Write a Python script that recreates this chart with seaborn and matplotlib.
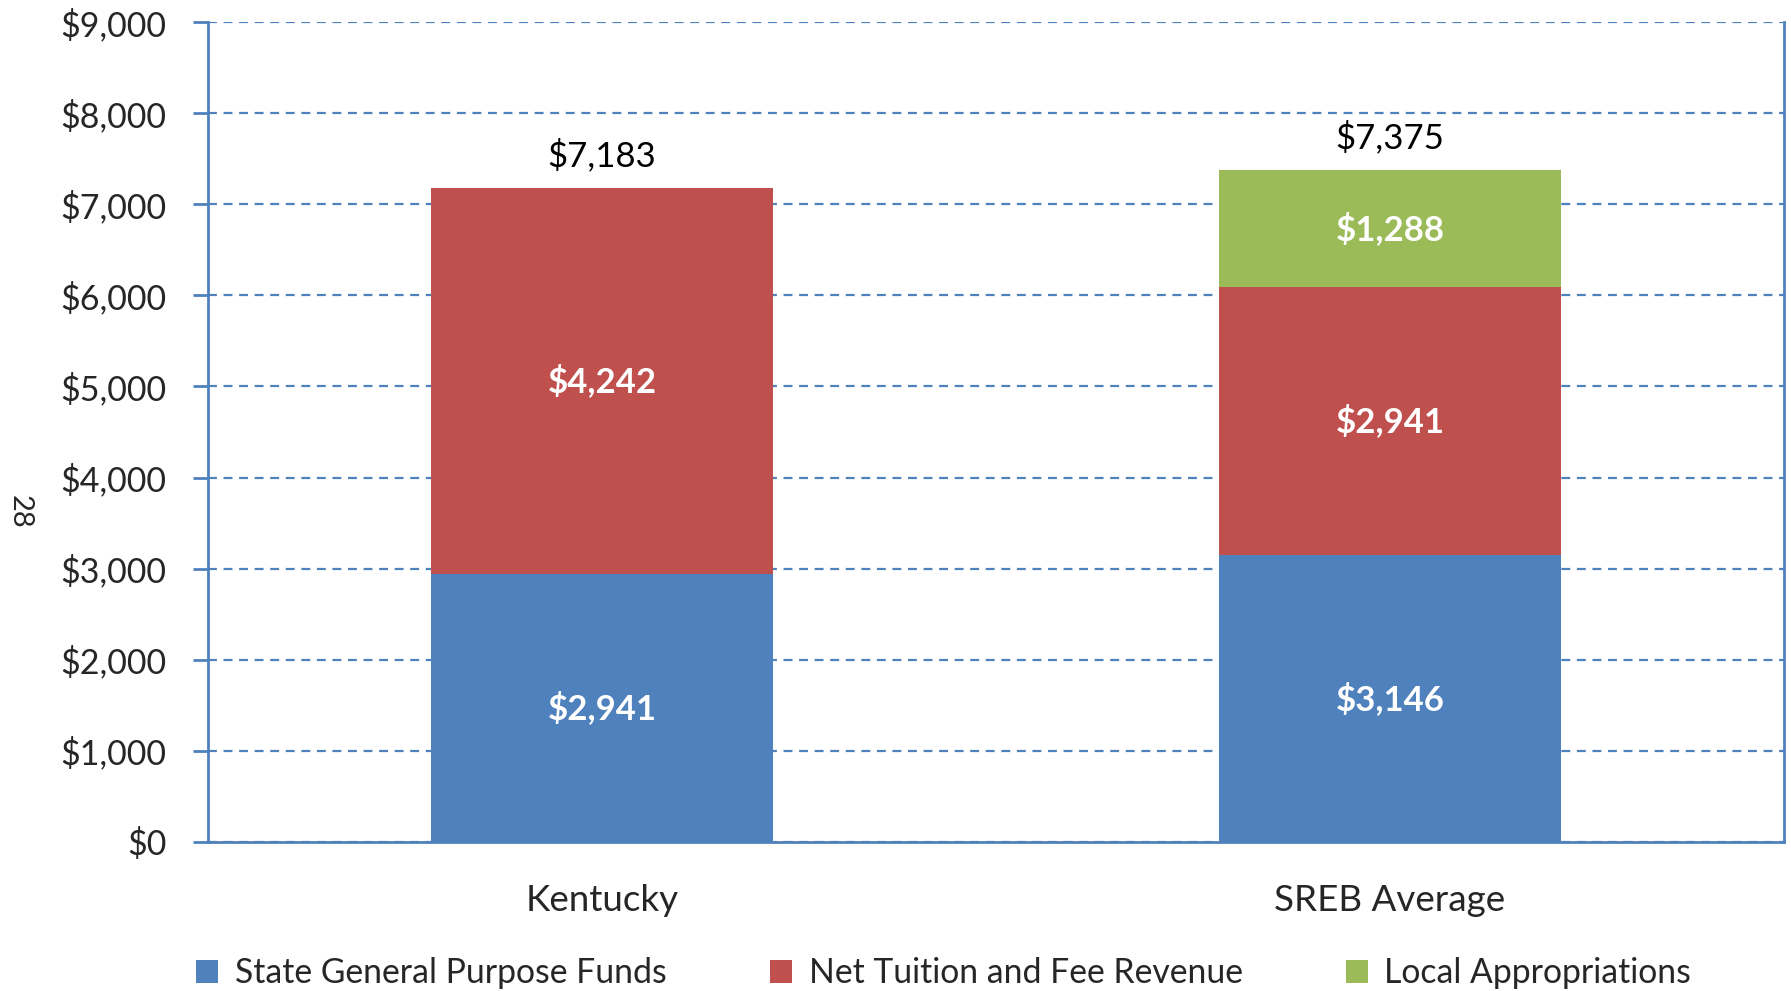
import numpy as np
import pandas as pd
import matplotlib.pyplot as plt
import seaborn as sns
from matplotlib.patches import Patch

# Datos
categorias = ['Kentucky', 'SREB Average']
estatal = [2941, 3146]
matricula = [4242, 2941]
local = [0, 1288]
totales = [7183, 7375]
series = ['State General Purpose Funds', 'Net Tuition and Fee Revenue', 'Local Appropriations']
colores = ['#4F81BD', '#C0504D', '#9BBB59']
azul = '#4F81BD'

sns.set_style('white')
plt.rcParams['font.family'] = ['Lato', 'DejaVu Sans']

df = pd.DataFrame({'cat': categorias, 'estatal': estatal,
                   'matricula': matricula, 'local': local})
df['c1'] = df['estatal']
df['c2'] = df['c1'] + df['matricula']
df['c3'] = df['c2'] + df['local']

fig = plt.figure(figsize=(17.91, 9.91), dpi=100)
ax = fig.add_axes([0.1161, 0.1504, 0.88, 0.8274])

# barras apiladas: se dibujan las sumas acumuladas de atras hacia adelante
for col, color in zip(['c3', 'c2', 'c1'], colores[::-1]):
    sns.barplot(data=df, x='cat', y=col, color=color, width=0.435,
                saturation=1, linewidth=0, ax=ax, zorder=3)

ax.set_ylim(0, 9000)
ax.set_xlim(-0.5, 1.5)
ax.set_yticks(np.arange(0, 9001, 1000))
ax.set_yticklabels([f'${v:,.0f}' for v in np.arange(0, 9001, 1000)], fontsize=24.5)
ax.set_xlabel('')
ax.set_ylabel('')
ax.tick_params(axis='x', labelsize=26.5, length=0, pad=30)
ax.tick_params(axis='y', length=11, width=2, color=azul, pad=19, left=True)

ax.yaxis.grid(True, linestyle=(0, (4, 3)), color=azul, linewidth=1.6, zorder=0)
ax.set_axisbelow(True)
for lado in ['left', 'bottom', 'right']:
    ax.spines[lado].set_color(azul)
    ax.spines[lado].set_linewidth(2)
ax.spines['top'].set_visible(False)

# etiquetas dentro de las barras
for i in range(len(categorias)):
    partes = [(0, estatal[i]), (estatal[i], matricula[i]),
              (estatal[i] + matricula[i], local[i])]
    for base, v in partes:
        if v > 0:
            ax.text(i, base + v / 2, f'${v:,.0f}', ha='center', va='center',
                    color='white', fontsize=25, fontweight='bold', zorder=5)
    ax.text(i, totales[i] + 170, f'${totales[i]:,.0f}', ha='center', va='bottom',
            color='black', fontsize=25, zorder=5)

fig.text(0.011, 0.483, '28', rotation=270, ha='center', va='center', fontsize=21)

manejadores = [Patch(facecolor=c, edgecolor='none') for c in colores]
fig.legend(manejadores, series, loc='center', bbox_to_anchor=(0.527, 0.018),
           ncol=3, frameon=False, fontsize=24.3, handlelength=0.65, handleheight=0.65,
           handletextpad=0.5, columnspacing=3.05)

fig.savefig('out.png', dpi=100)
